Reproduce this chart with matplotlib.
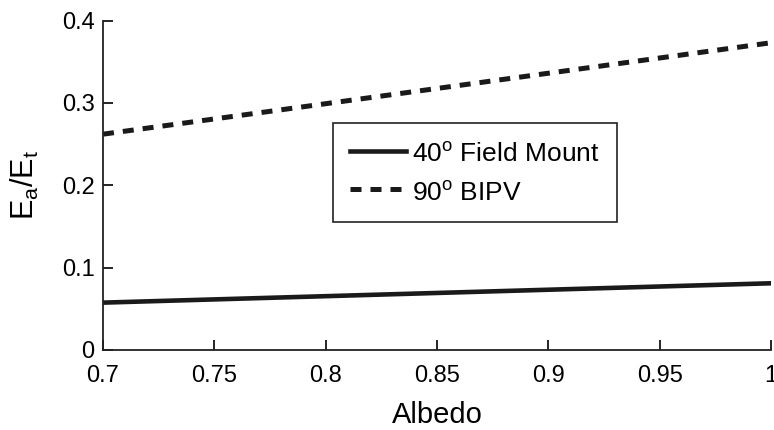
import numpy as np
import matplotlib
matplotlib.use('Agg')
import matplotlib.pyplot as plt

matplotlib.rcParams['font.family'] = 'Liberation Sans'
matplotlib.rcParams['mathtext.fontset'] = 'custom'
matplotlib.rcParams['mathtext.rm'] = 'Liberation Sans'
matplotlib.rcParams['mathtext.it'] = 'Liberation Sans'
matplotlib.rcParams['font.size'] = 14

# data
albedo = [0.7, 1.0]
field_mount = [0.0575, 0.081]
bipv = [0.262, 0.373]

xticks = [0.7, 0.75, 0.8, 0.85, 0.9, 0.95, 1.0]
xticklabels = ['0.7', '0.75', '0.8', '0.85', '0.9', '0.95', '1']
yticks = [0, 0.1, 0.2, 0.3, 0.4]
yticklabels = ['0', '0.1', '0.2', '0.3', '0.4']

fig = plt.figure(figsize=(7.74, 4.30), dpi=100)
ax = fig.add_axes([103/774, 80/430, 668/774, 329.5/430])

ax.plot(albedo, field_mount, color='#1a1a1a', lw=3.3, ls='-',
        label=r'40$^{\rm o}$ Field Mount')
ax.plot(albedo, bipv, color='#1a1a1a', lw=3.6, ls=(0, (2.2, 1.8)),
        label=r'90$^{\rm o}$ BIPV')

ax.set_xlim(0.7, 1.0)
ax.set_ylim(0, 0.4)
ax.set_xticks(xticks)
ax.set_xticklabels(xticklabels)
ax.set_yticks(yticks)
ax.set_yticklabels(yticklabels)
ax.tick_params(direction='in', length=7, width=1.2, labelsize=17, pad=6)
ax.tick_params(axis='x', pad=11)
ax.spines['top'].set_visible(False)
ax.spines['right'].set_visible(False)
for s in ('left', 'bottom'):
    ax.spines[s].set_linewidth(1.3)
    ax.spines[s].set_color('#222222')

ax.set_xlabel('Albedo', fontsize=21, labelpad=10)
ax.set_ylabel(r'E$_{\rm a}$/E$_{\rm t}$', fontsize=22, labelpad=15)

leg = ax.legend(loc='upper left', bbox_to_anchor=(230/668, 227/329.5),
                fontsize=19, frameon=True, fancybox=False, edgecolor='#222222',
                framealpha=1, handlelength=2.1, handleheight=1.1,
                borderpad=0.65, labelspacing=0.45, handletextpad=0.25,
                borderaxespad=0)
leg.get_frame().set_linewidth(1.2)

plt.savefig('out.png', dpi=100)
